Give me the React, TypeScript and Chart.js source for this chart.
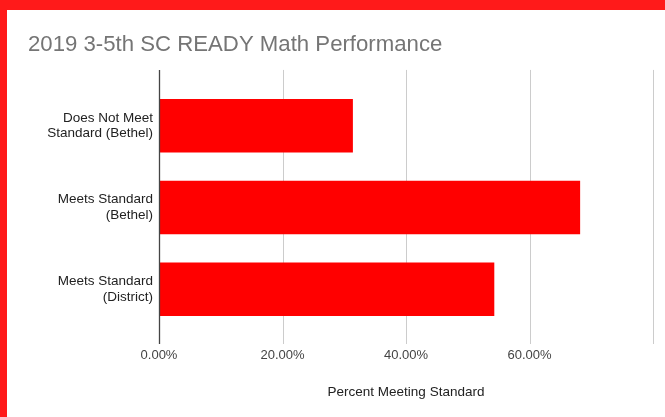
import React, { useEffect, useRef } from "react";
import { Chart, registerables } from "chart.js";

Chart.register(...registerables);

const chartTitle = "2019 3-5th SC READY Math Performance";
const categories: string[][] = [
  ["Does Not Meet", "Standard (Bethel)"],
  ["Meets Standard", "(Bethel)"],
  ["Meets Standard", "(District)"],
];
const values: number[] = [0.314, 0.682, 0.543];
const xTicks: number[] = [0, 0.2, 0.4, 0.6, 0.8];
const xAxisTitle = "Percent Meeting Standard";

const FONT = "'Liberation Sans', Arial, sans-serif";

const gridPlugin = {
  id: "gridExt",
  beforeDatasetsDraw(chart: any) {
    const { ctx, chartArea, scales } = chart;
    const x = scales.x;
    ctx.save();
    ctx.lineWidth = 1;
    x.ticks.forEach((t: any) => {
      if (t.value === 0) return;
      const px = Math.round(x.getPixelForValue(t.value)) + 0.5;
      ctx.strokeStyle = "#cccccc";
      ctx.beginPath();
      ctx.moveTo(px, chartArea.top - 15);
      ctx.lineTo(px, chartArea.bottom + 14);
      ctx.stroke();
    });
    ctx.restore();
  },
  afterDatasetsDraw(chart: any) {
    const { ctx, chartArea, scales } = chart;
    const x = scales.x;
    const px = Math.round(x.getPixelForValue(0)) + 0.5;
    ctx.save();
    ctx.strokeStyle = "#444444";
    ctx.lineWidth = 1.3;
    ctx.beginPath();
    ctx.moveTo(px, chartArea.top - 15);
    ctx.lineTo(px, chartArea.bottom + 14);
    ctx.stroke();
    ctx.restore();
  },
};

export default function App() {
  const ref = useRef<HTMLCanvasElement | null>(null);

  useEffect(() => {
    document.body.style.margin = "0";
    const canvas = ref.current;
    if (!canvas) return;
    const chart = new Chart(canvas, {
      type: "bar",
      data: {
        labels: categories,
        datasets: [
          {
            data: values,
            backgroundColor: "#ff0000",
            borderWidth: 0,
            barPercentage: 1,
            categoryPercentage: 0.655,
          },
        ],
      },
      options: {
        indexAxis: "y",
        animation: false,
        responsive: false,
        maintainAspectRatio: false,
        layout: { padding: { left: 28, right: 12, top: 0, bottom: 0 } },
        plugins: {
          legend: { display: false },
          tooltip: { enabled: false },
          title: {
            display: true,
            text: chartTitle,
            align: "start",
            color: "#757575",
            font: { family: FONT, size: 22.2, weight: "normal", lineHeight: 1.2 },
            padding: { top: 31.5, bottom: 26.8 },
          },
        },
        scales: {
          x: {
            type: "linear",
            min: 0,
            max: 0.8,
            afterBuildTicks: (scale: any) => {
              scale.ticks = xTicks.map((v) => ({ value: v }));
            },
            afterFit: (scale: any) => {
              scale.paddingRight = 0;
              scale.paddingLeft = 0;
            },
            grid: { display: false, drawTicks: false },
            border: { display: false },
            ticks: {
              maxRotation: 0,
              autoSkip: false,
              padding: 17.2,
              color: "#444444",
              font: { family: FONT, size: 13 },
              callback: (v: any) => (Number(v) >= 0.8 ? "" : (Number(v) * 100).toFixed(2) + "%"),
            },
            title: {
              display: true,
              text: xAxisTitle,
              color: "#222222",
              font: { family: FONT, size: 13.5 },
              padding: { top: 3.8, bottom: 17 },
            },
          },
          y: {
            type: "category",
            offset: true,
            grid: { display: false, drawTicks: false },
            border: { display: false },
            afterFit: (scale: any) => {
              scale.width = 131;
            },
            ticks: {
              padding: 6,
              color: "#222222",
              font: { family: FONT, size: 13.5, lineHeight: 1.15 },
            },
          },
        },
      },
      plugins: [gridPlugin],
    } as any);
    return () => chart.destroy();
  }, []);

  return (
    <div style={{ position: "relative", width: 665, height: 417, background: "#ffffff", overflow: "hidden" }}>
      <canvas ref={ref} width={665} height={417} style={{ display: "block", width: 665, height: 417 }} />
      <div style={{ position: "absolute", left: 0, top: 0, width: 665, height: 10, background: "#ff1a1a" }} />
      <div style={{ position: "absolute", left: 0, top: 0, width: 7, height: 417, background: "#ff1a1a" }} />
    </div>
  );
}
